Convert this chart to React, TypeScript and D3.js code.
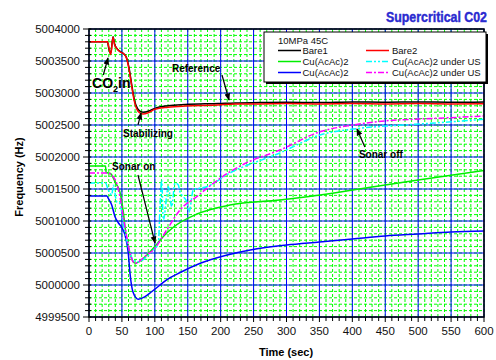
import React from "react";
import * as d3 from "d3";

const xTicks = [0, 50, 100, 150, 200, 250, 300, 350, 400, 450, 500, 550, 600];
const yTicks = [4999500, 5000000, 5000500, 5001000, 5001500, 5002000, 5002500, 5003000, 5003500, 5004000];

const bareT = [0, 28, 30, 33, 36.5, 39, 42, 47, 53, 57, 61, 65, 69, 75, 82, 90, 100, 120, 146, 196, 222, 260, 300, 350, 400, 450, 500, 550, 600];
const bare1F = [5003800, 5003800, 5003700, 5003620, 5003880, 5003760, 5003700, 5003650, 5003610, 5003550, 5003380, 5003120, 5002890, 5002740, 5002700, 5002715, 5002760, 5002800, 5002820, 5002835, 5002845, 5002850, 5002855, 5002850, 5002860, 5002855, 5002860, 5002855, 5002860];
const bare2F = [5003800, 5003800, 5003720, 5003600, 5003870, 5003750, 5003698, 5003645, 5003609, 5003542, 5003359, 5003098, 5002864, 5002708, 5002672, 5002692, 5002745, 5002777, 5002797, 5002812, 5002828, 5002830, 5002835, 5002830, 5002835, 5002830, 5002835, 5002830, 5002832];

const greenT = [0, 25, 26, 33, 40, 47, 52, 56, 62, 70, 88, 100, 108, 128, 164, 214, 290, 351, 420, 500, 600];
const greenF = [5001860, 5001860, 5001760, 5001740, 5001600, 5001450, 5001150, 5000800, 5000500, 5000339, 5000469, 5000600, 5000703, 5000902, 5001109, 5001250, 5001328, 5001406, 5001515, 5001640, 5001790];

const blueT = [0, 27, 29.3, 34.5, 39.5, 44.5, 49.7, 54.7, 59.7, 62.3, 66.8, 74.9, 85, 95.2, 107.9, 115.4, 140, 170, 210, 245, 300, 350, 400, 450, 500, 550, 600];
const blueF = [5001391, 5001391, 5001355, 5001250, 5001067, 5000973, 5000902, 5000781, 5000495, 5000183, 4999891, 4999777, 4999817, 4999895, 5000000, 5000062, 5000203, 5000344, 5000469, 5000547, 5000625, 5000672, 5000719, 5000766, 5000797, 5000828, 5000844];

const cyanT = [0, 25, 29.3, 34.5, 37, 42, 47, 52, 57.3, 67.3, 74.9, 87.6, 97.7, 105.3, 107.9, 110.4, 112.9, 120.5, 125.6, 130.6, 135.7, 138.2, 143.2, 148.4, 152, 158.4, 178.8, 214, 290, 351, 401, 452, 503, 550, 600];
const cyanF = [5001594, 5001594, 5001484, 5001406, 5001560, 5001302, 5001277, 5000964, 5000703, 5000391, 5000364, 5000442, 5000547, 5000652, 5001223, 5001641, 5001016, 5001536, 5001223, 5001594, 5001562, 5001458, 5001380, 5001302, 5001140, 5001484, 5001536, 5001750, 5002063, 5002344, 5002437, 5002484, 5002516, 5002550, 5002589];

const pinkT = [0, 25, 29.3, 36.9, 42, 47, 52, 57.3, 62.3, 69.9, 87.6, 97.7, 118, 138.2, 163.6, 188.8, 214.2, 239.6, 290.1, 350.9, 401, 452.2, 502.8, 550, 600];
const pinkF = [5001750, 5001750, 5001745, 5001692, 5001589, 5001380, 5001067, 5000755, 5000495, 5000339, 5000469, 5000547, 5000859, 5001172, 5001380, 5001589, 5001770, 5001911, 5002109, 5002395, 5002500, 5002567, 5002594, 5002615, 5002641];

const series = [
  { name: "Bare1", t: bareT, f: bare1F, color: "#000000", dash: "" },
  { name: "Bare2", t: bareT, f: bare2F, color: "#ff0000", dash: "" },
  { name: "Cu(AcAc)2", t: greenT, f: greenF, color: "#00ee00", dash: "" },
  { name: "Cu(AcAc)2 under US", t: cyanT, f: cyanF, color: "#00ffff", dash: "6,2,2,2,2,2" },
  { name: "Cu(AcAc)2", t: blueT, f: blueF, color: "#0000ff", dash: "" },
  { name: "Cu(AcAc)2 under US", t: pinkT, f: pinkF, color: "#ff00ff", dash: "6,2,2,2" },
];
const drawOrder = [2, 4, 3, 5, 0, 1];
const legendOrder = [0, 1, 2, 3, 4, 5];

const FONT = "'Liberation Sans', Arial, sans-serif";

export default function App() {
  const x = d3.scaleLinear().domain([0, 600]).range([89, 484]);
  const y = d3.scaleLinear().domain([4999500, 5004000]).range([317, 29]);
  const minorX = d3.range(0, 601, 10);
  const minorY = d3.range(4999500, 5004001, 100);
  const line = (t: number[], f: number[]) =>
    d3.line<number>().x((_, i) => x(t[i])).y((v) => y(v)).curve(d3.curveMonotoneX)(f) || "";

  const arrows = [
    { t1: 21.7, f1: 5003281, t2: 28.9, f2: 5003547 },
    { t1: 202, f1: 5003281, t2: 212.7, f2: 5002891 },
    { t1: 74.4, f1: 5002500, t2: 79, f2: 5002687 },
    { t1: 74.4, f1: 5001719, t2: 100.3, f2: 5000656 },
    { t1: 419, f1: 5002156, t2: 407, f2: 5002437 },
  ];
  const labels = [
    { t: 126, f: 5003333, text: "Reference" },
    { t: 51.6, f: 5002317, text: "Stabilizing" },
    { t: 35, f: 5001797, text: "Sonar on" },
    { t: 410, f: 5001980, text: "Sonar off" },
  ];

  return (
    <svg width={496} height={360} style={{ position: "absolute", left: 0, top: 0, background: "#fff" }}>
      <defs>
        <marker id="ah" viewBox="0 0 10 10" refX="9" refY="5" markerWidth="6" markerHeight="6" orient="auto">
          <path d="M0,1 L10,5 L0,9 z" fill="#000" />
        </marker>
        <clipPath id="clip">
          <rect x={89} y={29} width={395} height={288} />
        </clipPath>
      </defs>
      <rect x={0} y={0} width={496} height={360} fill="#fff" />
      {minorX.map((v) => (
        <line key={"mx" + v} x1={x(v)} x2={x(v)} y1={29} y2={317} stroke="#00ff00" strokeWidth={1} strokeDasharray="3,2" />
      ))}
      {minorY.map((v) => (
        <line key={"my" + v} x1={89} x2={484} y1={y(v)} y2={y(v)} stroke="#00ff00" strokeWidth={1} strokeDasharray="3,2" />
      ))}
      {xTicks.map((v) => (
        <line key={"gx" + v} x1={x(v)} x2={x(v)} y1={29} y2={317} stroke="#0000ff" strokeWidth={1} />
      ))}
      {yTicks.map((v) => (
        <line key={"gy" + v} x1={89} x2={484} y1={y(v)} y2={y(v)} stroke="#0000ff" strokeWidth={1} />
      ))}
      <g clipPath="url(#clip)">
        {drawOrder.map((i) => {
          const s = series[i];
          return (
            <path key={"s" + i} d={line(s.t, s.f)} fill="none" stroke={s.color} strokeWidth={1.5} strokeDasharray={s.dash || undefined} />
          );
        })}
      </g>
      <rect x={89} y={29} width={395} height={288} fill="none" stroke="#000" strokeWidth={1.5} />
      {minorX.map((v) => (
        <line key={"tx" + v} x1={x(v)} x2={x(v)} y1={317} y2={v % 50 === 0 ? 322 : 321} stroke="#000" strokeWidth={1} />
      ))}
      {minorY.map((v) => (
        <line key={"ty" + v} x1={v % 500 === 0 ? 83 : 85} x2={91} y1={y(v)} y2={y(v)} stroke="#000" strokeWidth={1} />
      ))}
      {xTicks.map((v) => (
        <text key={"lx" + v} x={x(v)} y={335} textAnchor="middle" fontFamily={FONT} fontSize={11.5} fill="#111">{v}</text>
      ))}
      {yTicks.map((v) => (
        <text key={"ly" + v} x={80} y={y(v) + 4} textAnchor="end" fontFamily={FONT} fontSize={11.5} fill="#111">{v}</text>
      ))}
      <text x={286} y={356} textAnchor="middle" fontFamily={FONT} fontSize={11} fontWeight="bold">Time (sec)</text>
      <text transform="translate(23,177) rotate(-90)" textAnchor="middle" fontFamily={FONT} fontSize={11} fontWeight="bold">Frequency (Hz)</text>
      <text x={487} y={22} textAnchor="end" fontFamily="'Liberation Sans Narrow', 'Arial Narrow', 'Liberation Sans', sans-serif" fontSize={14} fontWeight="bold" fill="#2a2ad0" stroke="#2a2ad0" strokeWidth={0.4} textLength={101} lengthAdjust="spacingAndGlyphs">Supercritical C02</text>
      {arrows.map((a, i) => (
        <line key={"ar" + i} x1={x(a.t1)} y1={y(a.f1)} x2={x(a.t2)} y2={y(a.f2)} stroke="#000" strokeWidth={1.2} markerEnd="url(#ah)" />
      ))}
      {labels.map((l, i) => (
        <text key={"lb" + i} x={x(l.t)} y={y(l.f)} fontFamily={FONT} fontSize={10} fontWeight="bold" fill="#000">{l.text}</text>
      ))}
      <text x={x(4.6)} y={y(5003078)} fontFamily={FONT} fontSize={14} fontWeight="bold" fill="#000">
        CO<tspan fontSize={9} dy={4}>2</tspan><tspan dy={-4}>in</tspan>
      </text>
      <rect x={266} y={34} width={222} height={50} fill="#000" />
      <rect x={264} y={32} width={222} height={50} fill="#fff" stroke="#000" strokeWidth={1} />
      <text x={278} y={44} fontFamily={FONT} fontSize={9.5} fill="#111">10MPa 45C</text>
      {legendOrder.map((i, k) => {
        const s = series[i];
        const col = k % 2;
        const row = Math.floor(k / 2);
        const lx = col === 0 ? 278 : 366;
        const ly = 50.5 + row * 11;
        return (
          <g key={"lg" + i}>
            <line x1={lx} x2={lx + 23} y1={ly} y2={ly} stroke={s.color} strokeWidth={1.5} strokeDasharray={s.dash || undefined} />
            <text x={col === 0 ? 302.5 : 392} y={ly + 3.5} fontFamily={FONT} fontSize={9.5} fill="#111">{s.name}</text>
          </g>
        );
      })}
    </svg>
  );
}
